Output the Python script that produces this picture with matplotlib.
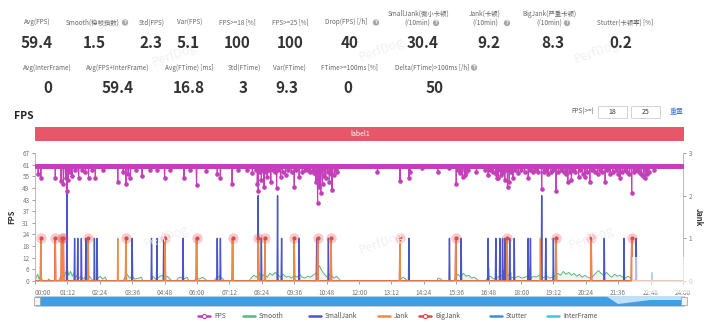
import numpy as np
import matplotlib
matplotlib.use("Agg")
import matplotlib.pyplot as plt
from matplotlib.patches import Rectangle, Polygon
from matplotlib.lines import Line2D

plt.rcParams['font.family'] = ['Noto Sans CJK SC', 'DejaVu Sans']

W, H = 720, 323

# ---- summary numbers ----
row1_labels = ["Avg(FPS)", "Smooth(稳帧指数)", "Std(FPS)", "Var(FPS)", "FPS>=18 [%]",
               "FPS>=25 [%]", "Drop(FPS) [/h]", "SmallJank(微小卡顿)\n(/10min)",
               "Jank(卡顿)\n(/10min)", "BigJank(严重卡顿)\n(/10min)", "Stutter(卡顿率) [%]"]
row1_values = ["59.4", "1.5", "2.3", "5.1", "100", "100", "40", "30.4", "9.2", "8.3", "0.2"]
row2_labels = ["Avg(InterFrame)", "Avg(FPS+InterFrame)", "Avg(FTime) [ms]", "Std(FTime)",
               "Var(FTime)", "FTime>=100ms [%]", "Delta(FTime)>100ms [/h]"]
row2_values = ["0", "59.4", "16.8", "3", "9.3", "0", "50"]

# ---- time series (seconds) ----
fps_base = 60
fps_dip_t = [7, 13, 45, 58, 63, 68, 71, 74, 78, 82, 88, 97, 104, 112, 119, 126, 134, 150,
             184, 196, 202, 207, 212, 225, 238, 255, 270, 288, 300, 331, 345, 359, 381, 405,
             412, 438, 452, 470, 483, 490, 494, 496, 500, 503, 506, 509, 513, 516, 520, 524,
             528, 533, 537, 541, 546, 550, 557, 563, 570, 576, 580, 587, 594, 600, 606, 612,
             618, 620, 624, 628, 631, 635, 639, 643, 646, 650, 654, 657, 660, 665, 669, 672,
             761, 811, 831, 834, 860, 895, 920, 936, 940, 944, 947, 950, 955, 958, 962, 981,
             1000, 1007, 1012, 1018, 1024, 1026, 1029, 1033, 1036, 1040, 1044, 1047, 1050,
             1054, 1058, 1062, 1066, 1074, 1080, 1088, 1096, 1100, 1106, 1112, 1118, 1126,
             1131, 1136, 1140, 1146, 1152, 1158, 1163, 1168, 1175, 1180, 1184, 1188, 1192,
             1196, 1201, 1208, 1212, 1217, 1222, 1227, 1233, 1238, 1244, 1250, 1256, 1261,
             1267, 1272, 1278, 1284, 1290, 1295, 1300, 1305, 1310, 1316, 1321, 1326, 1331,
             1336, 1342, 1347, 1352, 1356, 1360, 1364, 1375]
fps_dip_v = [56, 53.8, 53.8, 52.5, 51, 54, 47, 53, 57, 55, 58, 54, 58, 57, 54, 58, 54, 58,
             52, 57, 51, 56, 54, 58, 55, 58, 58, 54, 58, 54, 58, 50, 57.5, 56,
             54, 51, 58, 58, 56.4, 58, 51, 47, 57, 53, 58, 49.4, 57, 54.6, 58, 52,
             58, 57, 48.5, 58, 54.6, 57, 55.5, 58, 57, 49.4, 58, 54.6, 57, 58, 58, 57,
             58, 56.4, 52, 41, 49, 46, 51, 55, 54, 57, 52, 56, 47.6, 55.5, 58, 57,
             57, 52.5, 54, 57, 59, 57, 59, 51, 58, 56.4, 58, 54.6, 55.5, 57, 58, 57,
             58, 55.5, 58, 57, 56, 53.8, 54, 58, 55.5, 57, 53, 58, 49,
             52, 57, 54, 58, 56.4, 58, 57, 54, 58, 57, 58, 57, 48,
             57, 58, 56, 57, 58, 47, 57, 58, 57, 56, 52, 57, 53,
             58, 57, 54.6, 58, 56, 54.6, 57, 52, 58, 57, 56, 58, 57,
             52, 58, 56, 57, 58, 56, 54, 57, 58, 57, 56, 46, 57,
             58, 57, 56, 55, 54, 56, 57, 58]

bigjank_t = [13, 45, 59, 63, 118, 202, 289, 359, 439, 496, 511, 576, 628, 658, 811, 935,
             1049, 1158, 1236, 1326]
jank_t = bigjank_t + [184, 1123]
smalljank_t = [71, 88, 95, 103, 113, 132, 138, 216, 259, 271, 286, 329, 405, 412, 496, 503,
               539, 548, 587, 626, 652, 831, 921, 947, 1007, 1024, 1033, 1039, 1044, 1055,
               1065, 1096, 1101, 1126, 1135, 1152, 1265, 1309, 1336]
smalljank_v = [2.05, 1, 1, 1, 1, 1, 1, 1, 1, 1, 1, 1, 1, 1, 2.0, 1,
               2.0, 1, 1, 1, 1, 1, 1, 1, 1, 1, 1, 1, 1, 1,
               1, 1, 1, 2.0, 1, 1, 1, 1, 1]
stutter_t = [1008, 1025, 1040, 1045, 1057, 1097, 1136, 1371]
stutter_v = [0.3, 0.35, 0.25, 0.3, 0.2, 0.3, 0.25, 0.2]

# Smooth, one line per burst (zeros close each burst)
smooth_t = [0, 3, 6, 9, 12, 16, 19,
            28, 30, 33, 36,
            52, 55, 60, 64, 68, 72, 75, 79, 83, 86, 90, 94, 98, 102, 107, 112, 117, 121, 126, 129,
            137, 140, 145, 150, 156, 160,
            196, 200, 205, 210, 216, 222, 230, 236, 240,
            258, 262, 268, 275, 282, 288, 294, 300, 304,
            314, 318, 324, 330, 338, 342,
            354, 358, 365, 372, 378, 382,
            398, 402, 410, 418, 422,
            476, 480, 486, 492, 498, 504, 510, 516, 522, 528, 534, 540, 546, 552, 558, 564,
            570, 576, 582, 588, 594, 600, 606, 612, 618, 624, 628, 632, 636, 640, 645, 650,
            655, 660, 665, 670, 676, 680,
            808, 812, 818, 824, 828,
            892, 896, 902, 906,
            931, 935, 940, 946, 952, 958, 964, 970, 976, 982, 986,
            1001, 1005, 1012, 1020, 1028, 1036, 1042, 1050, 1058, 1066, 1074, 1082,
            1090, 1096, 1102, 1108, 1114, 1120, 1126, 1132, 1138, 1144, 1150, 1156, 1162,
            1168, 1174, 1180, 1186, 1192, 1198, 1204, 1210, 1216, 1222, 1228, 1234, 1240,
            1246, 1252, 1258, 1264, 1270, 1276, 1282, 1288, 1294, 1300, 1306, 1312, 1318,
            1324, 1330, 1334,
            1440]
smooth_v = [0, 2, 3.5, 1, 2.5, 0.5, 0,
            0, 1, 0.5, 0,
            0, 1.5, 3, 2, 4.5, 6, 3, 5, 2.5, 4, 2, 3, 1.5, 2.5, 1, 2, 1, 2.5, 1, 0,
            0, 1.5, 2.5, 1, 2, 0,
            0, 2, 3.5, 1.5, 2.5, 1, 1.5, 2, 0,
            0, 2.5, 1, 2, 3, 1.5, 2.5, 1, 0,
            0, 1.5, 2, 1, 2, 0,
            0, 1.5, 1, 2, 1, 0,
            0, 1.5, 2.5, 1, 0,
            0, 1.5, 3, 2, 4, 2.5, 3.5, 2, 4, 3, 4.5, 3, 2, 3.5, 2, 2.5,
            1.5, 3, 2, 3.5, 2, 1.5, 2.5, 2, 3, 4, 6, 8, 6, 4.5, 3, 2,
            3.5, 2.5, 1.5, 2.5, 1, 0,
            0, 1, 2, 1, 0,
            0, 1.5, 1, 0,
            0, 2, 3.5, 2, 4, 2.5, 3, 1.5, 2, 1, 0,
            0, 1.5, 2.5, 1, 2, 3, 2, 3.5, 2, 1.5, 2.5, 1.5,
            2, 3, 1.5, 2.5, 2, 3, 1.5, 2, 2.5, 1.5, 2, 3, 4,
            3, 5, 3.5, 4.5, 3, 4, 2.5, 3.5, 2, 3, 2, 1.5, 2.5,
            4, 5.5, 4, 3, 4.5, 3, 2, 3.5, 2.5, 3, 2, 1.5, 2.5,
            1.5, 1, 0,
            0]

x_tick_sec = list(range(0, 1441, 72))
y_tick_labels = ['0', '6', '12', '18', '24', '31', '37', '43', '49', '55', '61', '67']
legend_names = ["FPS", "Smooth", "SmallJank", "Jank", "BigJank", "Stutter", "InterFrame"]

C_FPS = '#c43fb9'
C_SMOOTH = '#5cb87a'
C_SMALL = '#4b55c8'
C_JANK = '#ef8a46'
C_BIG = '#dd4b4b'
C_STUT = '#3c8fd6'
C_INTER = '#3fc6dc'
C_GREY = '#777777'


def fx(x):
    return x / W


def fy(y):
    return 1 - y / H


def qmark(x, y):
    fig.text(fx(x), fy(y), "?", fontsize=4, color='white', ha='center', va='center',
             fontweight='bold',
             bbox=dict(boxstyle='circle,pad=0.12', fc='#a8a8a8', ec='none'))


fig = plt.figure(figsize=(7.2, 3.23), dpi=100)

# watermarks
for (wx, wy) in [(175, 55), (382, 50), (597, 52), (167, 237), (382, 243), (592, 238)]:
    fig.text(fx(wx), fy(wy), "PerfDog", fontsize=9, color='#f1f1f1', rotation=20,
             ha='center', va='center', zorder=0)

# ---- stats block ----
r1_cx = [37, 93, 152, 190, 237, 290, 346, 419, 485, 549, 625]
r1_vx = [37, 94, 151, 188, 237, 290, 350, 423, 489, 553, 621]
r1_sub_x = [0, 0, 0, 0, 0, 0, 0, 417, 485, 549, 0]
for lab, val, cx, vx, sx in zip(row1_labels, row1_values, r1_cx, r1_vx, r1_sub_x):
    if "\n" in lab:
        top, bottom = lab.split("\n")
        fig.text(fx(cx), fy(14), top, fontsize=4.6, color='#666666', ha='center',
                 va='center')
        fig.text(fx(sx), fy(23), bottom, fontsize=4.6, color='#666666', ha='center',
                 va='center')
    else:
        fig.text(fx(cx), fy(22.5), lab, fontsize=4.6, color='#666666', ha='center',
                 va='center')
    fig.text(fx(vx), fy(42.5), val, fontsize=11, color='#333333', ha='center', va='center',
             fontweight='bold')
for (qx, qy) in [(125, 22.5), (376, 22.5), (436, 23), (507, 23), (567, 23)]:
    qmark(qx, qy)

r2_cx = [47, 118, 189, 244, 289, 349, 432]
r2_vx = [48, 118, 189, 243, 287, 348, 435]
for lab, val, cx, vx in zip(row2_labels, row2_values, r2_cx, r2_vx):
    fig.text(fx(cx), fy(67.5), lab, fontsize=4.6, color='#666666', ha='center', va='center')
    fig.text(fx(vx), fy(88), val, fontsize=11, color='#333333', ha='center', va='center',
             fontweight='bold')
qmark(474, 67.5)

# ---- chart header ----
fig.text(fx(14), fy(116), "FPS", fontsize=7.5, fontweight='bold', color='#222222',
         va='center')
fig.text(fx(583), fy(112), "FPS(>=)", fontsize=4.6, color='#555555', ha='center',
         va='center')
for bx, txt in [(598, "18"), (631, "25")]:
    fig.patches.append(Rectangle((fx(bx), fy(118)), 29 / W, 12 / H, transform=fig.transFigure,
                                 fc='white', ec='#cccccc', lw=0.6))
    fig.text(fx(bx + 14.5), fy(112), txt, fontsize=5, color='#333333', ha='center',
             va='center')
fig.text(fx(677), fy(112), "重置", fontsize=5, color='#4a7bd0', ha='center', va='center')

fig.patches.append(Rectangle((fx(35), fy(141)), (684 - 35) / W, 14 / H,
                             transform=fig.transFigure, fc='#e8566a', ec='none'))
fig.text(fx(360), fy(134), "label1", fontsize=5, color='white', ha='center', va='center')

# ---- main chart ----
ax = fig.add_axes([fx(35), fy(281), (683 - 35) / W, 128 / H])
ax2 = ax.twinx()

sec = np.arange(0, 1441)
fps = np.full(sec.size, float(fps_base))
for t, v in zip(fps_dip_t, fps_dip_v):
    fps[int(t)] = v


def spikes(ts, vs):
    arr = np.zeros(sec.size)
    for t, v in zip(ts, vs):
        arr[int(t)] = max(arr[int(t)], v)
    return arr


small = spikes(smalljank_t, smalljank_v)
jank = spikes(jank_t, [1] * len(jank_t))
big = spikes(bigjank_t, [1] * len(bigjank_t))
stut = spikes(stutter_t, stutter_v)

ax.fill_between(smooth_t, smooth_v, color=C_SMOOTH, alpha=0.12, lw=0, zorder=1)
ax.plot(smooth_t, smooth_v, color=C_SMOOTH, lw=0.7, zorder=2)
ax2.plot(sec, np.zeros(sec.size), color=C_INTER, lw=0.6, zorder=2)
ax2.plot(sec, stut, color=C_STUT, lw=0.8, zorder=3)
ax2.plot(sec, small, color=C_SMALL, lw=1.0, zorder=3)
ax2.plot(sec, big, color=C_BIG, lw=1.1, zorder=3)
ax2.plot(sec, jank, color=C_JANK, lw=0.9, zorder=4)
ax2.plot(bigjank_t, [1] * len(bigjank_t), 'o', ms=7.5, color=C_BIG, alpha=0.28, mec='none',
         zorder=5)
ax2.plot(bigjank_t, [1] * len(bigjank_t), 'o', ms=3, color=C_BIG, mec='none', zorder=6)
ax2.plot(sec, fps * 3 / 67, color=C_FPS, lw=0.8, marker='o', ms=2.3, mec=C_FPS, zorder=7)

ax.set_xlim(0, 1440)
ax.set_ylim(0, 67)
ax2.set_ylim(0, 3)
ax.set_yticks(np.linspace(0, 67, 12))
ax.set_yticklabels(y_tick_labels)
ax2.set_yticks([0, 1, 2, 3])
ax.set_xticks(x_tick_sec)
ax.set_xticklabels(["%02d:%02d" % (s // 60, s % 60) for s in x_tick_sec])
ax.get_xticklabels()[0].set_ha('left')

for a in (ax, ax2):
    a.tick_params(labelsize=4.6, colors=C_GREY, length=2.5, width=0.5, pad=1.5)
    for s in a.spines.values():
        s.set_color('#bbbbbb')
        s.set_linewidth(0.6)
    a.spines['top'].set_visible(False)
    a.patch.set_visible(False)
ax.tick_params(axis='x', pad=3)
ax.set_ylabel("FPS", fontsize=5.5, color='#333333', fontweight='bold', labelpad=4)
ax2.set_ylabel("Jank", fontsize=5.5, color='#333333', fontweight='bold', rotation=-90,
               labelpad=8)

# faded overlay at the lower right corner
fig.patches.append(Rectangle((fx(632), fy(293)), 70 / W, 36 / H, transform=fig.transFigure,
                             fc='white', ec='none', alpha=0.6, zorder=10))

# ---- data zoom slider ----
fig.patches.append(Rectangle((fx(35), fy(306)), (684 - 35) / W, 10 / H,
                             transform=fig.transFigure, fc='#3f9fe6', ec='#d0d0d0', lw=0.4))
fig.patches.append(Polygon([(fx(606), fy(296)), (fx(684), fy(296)), (fx(684), fy(300)),
                            (fx(650), fy(300)), (fx(618), fy(304))],
                           closed=True, transform=fig.transFigure, fc='#bfe0f7', ec='none'))
for hx in (37, 684):
    fig.patches.append(Rectangle((fx(hx - 3), fy(305)), 6 / W, 8 / H,
                                 transform=fig.transFigure, fc='#f4f4f4', ec='#999999',
                                 lw=0.5))

# ---- legend ----
legend_cols = [C_FPS, C_SMOOTH, C_SMALL, C_JANK, C_BIG, C_STUT, C_INTER]
legend_x = [204, 249, 315, 384, 425, 496, 553]
for name, col, lx in zip(legend_names, legend_cols, legend_x):
    fig.lines.append(Line2D([fx(lx - 6), fx(lx + 6)], [fy(316), fy(316)],
                            transform=fig.transFigure, color=col, lw=1.8,
                            solid_capstyle='round'))
    if name in ("FPS", "BigJank"):
        fig.lines.append(Line2D([fx(lx)], [fy(316)], transform=fig.transFigure, marker='o',
                                ms=3, color=col, mfc='white', mec=col, mew=0.8))
    fig.text(fx(lx + 10), fy(316), name, fontsize=4.8, color='#555555', va='center')

fig.savefig("out.png", dpi=100)
